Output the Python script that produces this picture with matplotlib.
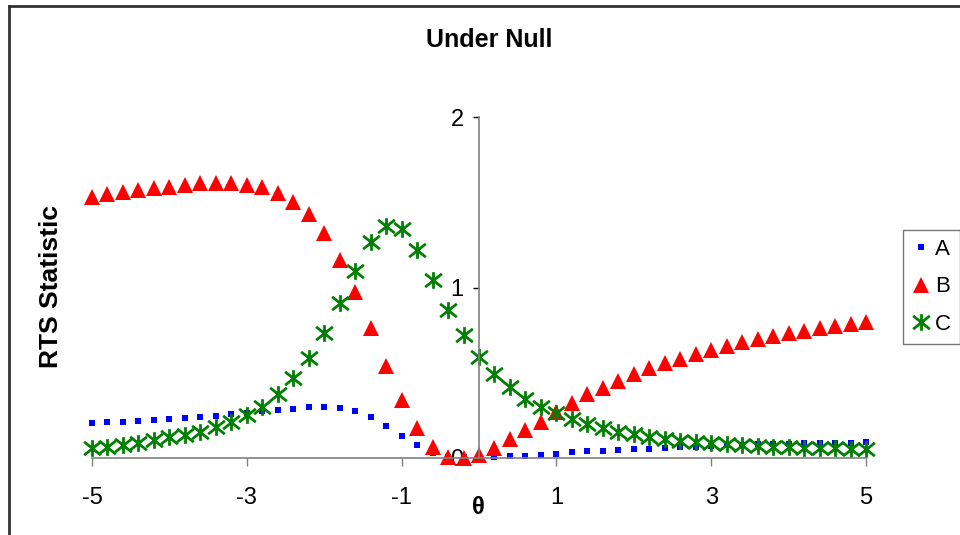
import numpy as np
import matplotlib.pyplot as plt
from matplotlib.path import Path
from matplotlib.lines import Line2D

plt.rcParams['font.family'] = ['Liberation Sans', 'DejaVu Sans']
plt.rcParams['axes.unicode_minus'] = False

theta = np.round(np.arange(-5, 5.01, 0.2), 1)

series_a = [0.207, 0.209, 0.213, 0.217, 0.223, 0.227, 0.233, 0.239, 0.247, 0.256,
            0.266, 0.276, 0.282, 0.290, 0.297, 0.301, 0.295, 0.276, 0.239, 0.188,
            0.129, 0.076, 0.027, 0.008, 0.003, 0.000, 0.005, 0.012, 0.014, 0.018,
            0.025, 0.033, 0.039, 0.043, 0.049, 0.053, 0.055, 0.059, 0.064, 0.066,
            0.070, 0.074, 0.076, 0.080, 0.082, 0.084, 0.086, 0.088, 0.090, 0.090,
            0.092]

series_b = [1.533, 1.546, 1.558, 1.570, 1.582, 1.591, 1.601, 1.611, 1.615, 1.611,
            1.603, 1.588, 1.556, 1.503, 1.429, 1.318, 1.161, 0.976, 0.761, 0.540,
            0.340, 0.174, 0.066, 0.004, 0.000, 0.020, 0.057, 0.110, 0.164, 0.213,
            0.268, 0.320, 0.375, 0.413, 0.450, 0.490, 0.526, 0.555, 0.582, 0.610,
            0.633, 0.657, 0.678, 0.698, 0.716, 0.731, 0.745, 0.760, 0.774, 0.786,
            0.800]

series_c = [0.057, 0.067, 0.076, 0.090, 0.106, 0.121, 0.135, 0.154, 0.184, 0.213,
            0.252, 0.301, 0.377, 0.467, 0.585, 0.731, 0.907, 1.099, 1.265, 1.363,
            1.341, 1.220, 1.044, 0.868, 0.721, 0.594, 0.490, 0.415, 0.344, 0.297,
            0.262, 0.227, 0.198, 0.174, 0.154, 0.139, 0.125, 0.111, 0.101, 0.096,
            0.086, 0.082, 0.076, 0.072, 0.066, 0.064, 0.060, 0.057, 0.057, 0.053,
            0.051]

labels = ['A', 'B', 'C']
x_ticks = [-5, -3, -1, 1, 3, 5]
y_ticks = [0, 1, 2]

# Excel-style star: an X with a vertical bar through it
star = Path([(0, -1), (0, 1), (-1, -0.8), (1, 0.8), (-1, 0.8), (1, -0.8)],
            [Path.MOVETO, Path.LINETO, Path.MOVETO, Path.LINETO, Path.MOVETO, Path.LINETO])

fig = plt.figure(figsize=(9.6, 5.35), dpi=100)
ax = fig.add_axes([92 / 960, 1 - 458 / 535, (866 - 92) / 960, (458 - 117) / 535])

ax.plot(theta, series_a, ls='none', marker='s', ms=5, color='#0000ff', mew=0,
        label=labels[0], clip_on=False)
ax.plot(theta, series_b, ls='none', marker='^', ms=11, color='#ff0000', mew=0,
        label=labels[1], clip_on=False)
ax.plot(theta, series_c, ls='none', marker=star, ms=12, color='#008000', mew=2,
        mfc='none', label=labels[2], clip_on=False)

ax.set_xlim(-5, 5)
ax.set_ylim(0, 2)
ax.spines['top'].set_visible(False)
ax.spines['right'].set_visible(False)
ax.spines['left'].set_position(('data', 0))
for s in ['left', 'bottom']:
    ax.spines[s].set_color('#808080')
    ax.spines[s].set_linewidth(1.2)

ax.set_xticks(x_ticks)
ax.set_yticks(y_ticks)
ax.tick_params(axis='x', direction='out', length=6, width=1, color='#808080',
               pad=15, labelsize=17)
ax.tick_params(axis='y', direction='out', length=4, width=1, color='black',
               pad=7, labelsize=17)

fig.text(489 / 960, 1 - 40 / 535, 'Under Null', ha='center', va='center',
         fontsize=18, fontweight='bold')
fig.text(51 / 960, 1 - 287 / 535, 'RTS Statistic', ha='center', va='center',
         rotation=90, fontsize=19, fontweight='bold')
fig.text(478 / 960, 1 - 507 / 535, 'θ', ha='center', va='center',
         fontsize=17, fontweight='bold')

leg = fig.legend(loc='center left', bbox_to_anchor=(903 / 960, 1 - 287 / 535),
                 fontsize=16, frameon=True, fancybox=False, handlelength=0.8,
                 handletextpad=0.25, borderpad=0.4, borderaxespad=0,
                 labelspacing=0.75)
leg.get_frame().set_edgecolor('#555555')
leg.get_frame().set_linewidth(1)

# chart border
fig.add_artist(Line2D([9 / 960, 9 / 960], [0, 1 - 6 / 535], color='#333333', lw=2))
fig.add_artist(Line2D([9 / 960, 1], [1 - 6 / 535, 1 - 6 / 535], color='#333333', lw=2))

fig.savefig('out.png', dpi=100)
